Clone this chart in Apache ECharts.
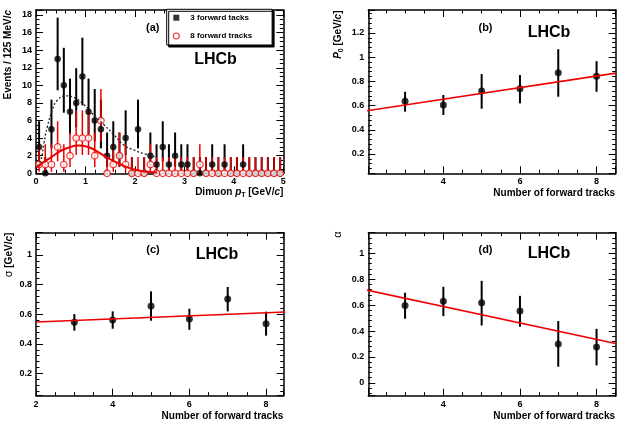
<!DOCTYPE html>
<html><head><meta charset="utf-8">
<script src="https://cdn.jsdelivr.net/npm/echarts@6/dist/echarts.min.js"></script>
<style>html,body{margin:0;padding:0;background:#fff}#c{width:624px;height:427px}</style>
</head><body><div id="c"></div>
<script>
// ================= DATA =================
// Panel (a): dimuon pT histogram, 125 MeV/c bins (bin centres, GeV/c)
const ptBinCentres = [0.0625,0.1875,0.3125,0.4375,0.5625,0.6875,0.8125,0.9375,1.0625,1.1875,
  1.3125,1.4375,1.5625,1.6875,1.8125,1.9375,2.0625,2.1875,2.3125,2.4375,
  2.5625,2.6875,2.8125,2.9375,3.0625,3.1875,3.3125,3.4375,3.5625,3.6875,
  3.8125,3.9375,4.0625,4.1875,4.3125,4.4375,4.5625,4.6875,4.8125,4.9375];
const counts3Tracks = [3,0,5,13,10,7,8,11,7,6, 5,2,3,2,4,0,5,0,2,1, 3,1,2,1,1,0,0,0,1,0, 1,0,0,1,0,0,0,0,0,0];
const counts8Tracks = [1,1,1,3,1,2,4,4,4,2, 6,0,1,2,1,0,0,0,1,0, 0,0,0,0,0,0,1,0,0,0, 0,0,0,0,0,0,0,0,0,0];
// Poisson (68%) error bars, looked up by count n = 0..13
const poissonErrLow  = [0,0.83,1.29,1.63,1.91,2.16,2.38,2.58,2.77,2.94,3.11,3.27,3.42,3.56];
const poissonErrHigh = [1.84,2.30,2.64,2.92,3.16,3.38,3.58,3.77,3.95,4.11,4.27,4.42,4.57,4.70];
// Fit curves
const fit3X = [0.03,0.10,0.16,0.23,0.33,0.43,0.60,0.77,0.97,1.17,1.38,1.58,1.78,2.00,2.20,2.40];
const fit3Y = [0.8,1.5,3.4,5.3,7.2,8.3,8.8,8.6,7.8,6.6,5.5,4.35,3.2,2.6,2.2,1.9];
const fit8X = [0.03,0.16,0.30,0.50,0.67,0.85,1.05,1.25,1.45,1.65,1.85,2.05,2.25,2.45];
const fit8Y = [0.7,1.3,1.8,2.55,2.95,3.15,3.0,2.45,1.75,1.2,0.68,0.35,0.18,0.08];
// Panels (b)-(d): fit parameters vs number of forward tracks
const nTracks = [3,4,5,6,7,8];
const p0Val = [0.635,0.604,0.720,0.739,0.871,0.843];
const p0Lo  = [0.549,0.522,0.574,0.618,0.673,0.714];
const p0Hi  = [0.714,0.687,0.860,0.852,1.066,0.967];
const sigmaVal = [0.545,0.561,0.655,0.567,0.703,0.536];
const sigmaLo  = [0.489,0.502,0.556,0.495,0.619,0.455];
const sigmaHi  = [0.601,0.619,0.754,0.637,0.784,0.617];
const alphaVal = [0.598,0.631,0.618,0.554,0.299,0.276];
const alphaLo  = [0.495,0.515,0.443,0.433,0.124,0.134];
const alphaHi  = [0.696,0.742,0.788,0.672,0.477,0.417];
// Straight-line fits (end points at x = 2 and x = 8.5)
const lineFitX = [2, 8.5];
const p0FitY = [0.557, 0.868];
const sigmaFitY = [0.547, 0.615];
const alphaFitY = [0.716, 0.304];
// Tick label steps
const ptTickStep = 1, countTickStep = 2, trackTickStep = 2, paramTickStep = 0.2;

// ================= BUILD =================
const FONT = '"Liberation Sans", Arial, Helvetica, sans-serif';
const RED = '#ee0000';
const chart = echarts.init(document.getElementById('c'), null, {renderer: 'canvas'});

const grids = [
  {left: 36, top: 10, width: 247.3, height: 163.3},
  {left: 368.3, top: 10, width: 247.4, height: 163.3},
  {left: 36, top: 232.7, width: 247.7, height: 163},
  {left: 368.3, top: 232.7, width: 247.4, height: 163}
].map(g => Object.assign({outerBoundsMode: 'none', containLabel: false}, g));

function stepFormatter(step) {
  return v => {
    const r = v / step;
    return Math.abs(r - Math.round(r)) < 1e-6 ? String(+v.toFixed(2)) : '';
  };
}
function makeAxis(gi, pos, opt, showLabels) {
  const a = {
    type: 'value', gridIndex: gi, position: pos,
    min: opt.min, max: opt.max,
    splitLine: {show: false},
    axisLine: {show: true, onZero: false, lineStyle: {color: '#000', width: 1.5}},
    axisTick: {show: true, inside: true, length: 7, lineStyle: {color: '#000', width: 1}},
    minorTick: {show: true, splitNumber: opt.minor, length: 3.5, lineStyle: {color: '#000', width: 1}},
    axisLabel: {show: showLabels, color: '#000', fontFamily: FONT, fontWeight: 'bold', fontSize: 9,
      margin: 4, formatter: stepFormatter(opt.step), showMinLabel: true, showMaxLabel: true, hideOverlap: false},
    axisPointer: {show: false}
  };
  if (opt.interval != null) a.interval = opt.interval;
  if (opt.splitNumber != null) a.splitNumber = opt.splitNumber;
  return a;
}
const xOpts = [
  {min: 0, max: 5, interval: ptTickStep, step: ptTickStep, minor: 5},
  {min: 2.04, max: 8.5, splitNumber: 3, step: trackTickStep, minor: 4},
  {min: 2, max: 8.46, interval: trackTickStep, step: trackTickStep, minor: 4},
  {min: 2.04, max: 8.5, splitNumber: 3, step: trackTickStep, minor: 4}
];
const yOpts = [
  {min: 0, max: 18.57, interval: countTickStep, step: countTickStep, minor: 4},
  {min: 0.04, max: 1.39, splitNumber: 7, step: paramTickStep, minor: 5},
  {min: 0.05, max: 1.15, splitNumber: 5, step: paramTickStep, minor: 5},
  {min: -0.1, max: 1.16, splitNumber: 6, step: paramTickStep, minor: 5}
];
const xAxes = [], yAxes = [];
for (let g = 0; g < 4; g++) {
  xAxes.push(makeAxis(g, 'bottom', xOpts[g], true));
  xAxes.push(makeAxis(g, 'top', xOpts[g], false));
  yAxes.push(makeAxis(g, 'left', yOpts[g], true));
  yAxes.push(makeAxis(g, 'right', yOpts[g], false));
}

function errBarRender(color, width) {
  return function (params, api) {
    const p1 = api.coord([api.value(0), api.value(1)]);
    const p2 = api.coord([api.value(0), api.value(2)]);
    return {type: 'line', shape: {x1: p1[0], y1: p1[1], x2: p2[0], y2: p2[1]},
      style: {stroke: color, lineWidth: width}};
  };
}
function errSeries(g, name, data, color, width) {
  return {type: 'custom', name, xAxisIndex: 2 * g, yAxisIndex: 2 * g, data,
    encode: {x: 0, y: [1, 2]}, renderItem: errBarRender(color, width), silent: true, clip: false};
}
function pointSeries(g, name, data, style, size) {
  return {type: 'scatter', name, xAxisIndex: 2 * g, yAxisIndex: 2 * g, data,
    symbol: 'circle', symbolSize: size, itemStyle: style, clip: false, silent: true};
}
function lineSeries(g, name, xs, ys, style, smooth) {
  return {type: 'line', name, xAxisIndex: 2 * g, yAxisIndex: 2 * g,
    data: xs.map((x, i) => [x, ys[i]]), showSymbol: false, symbol: 'none', smooth: smooth,
    lineStyle: style, silent: true};
}

const series = [];
// Panel (a)
series.push(errSeries(0, 'err3', ptBinCentres.map((x, i) => {
  const n = counts3Tracks[i]; return [x, n - poissonErrLow[n], n + poissonErrHigh[n]];
}), '#000', 2));
series.push(pointSeries(0, '3 forward tacks', ptBinCentres.map((x, i) => [x, counts3Tracks[i]]), {color: '#000'}, 6.5));
series.push(lineSeries(0, 'fit3', fit3X, fit3Y, {color: '#222', width: 1.3, type: [2, 2]}, true));
series.push(errSeries(0, 'err8', ptBinCentres.map((x, i) => {
  const n = counts8Tracks[i]; return [x, n - poissonErrLow[n], n + poissonErrHigh[n]];
}), RED, 1.5));
series.push(pointSeries(0, '8 forward tracks', ptBinCentres.map((x, i) => [x, counts8Tracks[i]]),
  {color: '#fff', borderColor: RED, borderWidth: 1.2}, 6.5));
series.push(lineSeries(0, 'fit8', fit8X, fit8Y, {color: RED, width: 2}, true));
// Panels (b)-(d)
const params = [[p0Val, p0Lo, p0Hi, p0FitY], [sigmaVal, sigmaLo, sigmaHi, sigmaFitY], [alphaVal, alphaLo, alphaHi, alphaFitY]];
params.forEach((p, k) => {
  const g = k + 1;
  series.push(lineSeries(g, 'fitline' + g, lineFitX, p[3], {color: RED, width: 1.6}, false));
  series.push(errSeries(g, 'errp' + g, nTracks.map((x, i) => [x, p[1][i], p[2][i]]), '#000', 2));
  series.push(pointSeries(g, 'pts' + g, nTracks.map((x, i) => [x, p[0][i]]), {color: '#000'}, 7));
});

function txt(x, y, text, size, opts) {
  return Object.assign({type: 'text', x, y, silent: true, z: 100,
    style: Object.assign({text, fontFamily: FONT, fontWeight: 'bold', fontSize: size, fill: '#000',
      align: 'center', verticalAlign: 'middle'}, (opts && opts.style) || {})},
    (opts && opts.el) || {});
}
const rich = {
  b: {fontFamily: FONT, fontWeight: 'bold', fontSize: 10, lineHeight: 13, verticalAlign: 'middle', fill: '#000'},
  i: {fontFamily: FONT, fontWeight: 'bold', fontStyle: 'italic', fontSize: 10, lineHeight: 13, verticalAlign: 'middle', fill: '#000'},
  s: {fontFamily: FONT, fontWeight: 'bold', fontSize: 7, lineHeight: 6, verticalAlign: 'bottom', fill: '#000'},
  g: {fontFamily: FONT, fontWeight: 'normal', fontSize: 11, lineHeight: 13, verticalAlign: 'middle', fill: '#000'}
};
function richTxt(x, y, text, align, rotation) {
  return {type: 'text', x, y, rotation: rotation || 0, silent: true, z: 100,
    style: {text, rich, align, verticalAlign: 'middle', fontFamily: FONT, fontSize: 10}};
}
const R90 = Math.PI / 2;
const graphic = [
  txt(152.7, 28.3, '(a)', 11), txt(485.5, 28.3, '(b)', 11), txt(153, 250, '(c)', 11), txt(485.5, 250, '(d)', 11),
  txt(215.5, 60, 'LHCb', 16), txt(549, 32.7, 'LHCb', 16), txt(217, 254.3, 'LHCb', 16), txt(549, 253.3, 'LHCb', 16),
  richTxt(8.3, 10, '{b|Events / 125 MeV/}{i|c}', 'right', R90),
  richTxt(283.3, 192, '{b|Dimuon }{i|p}{s|T}{b| [GeV/}{i|c}{b|]}', 'right'),
  richTxt(338, 10.5, '{i|P}{s|0}{b| [GeV/}{i|c}{b|]}', 'right', R90),
  richTxt(615, 193, '{b|Number of forward tracks}', 'right'),
  richTxt(9, 232.7, '{g|σ}{b| [GeV/}{i|c}{b|]}', 'right', R90),
  richTxt(283.3, 416, '{b|Number of forward tracks}', 'right'),
  richTxt(338.3, 231.5, '{g|α}', 'right', R90),
  richTxt(615, 416.7, '{b|Number of forward tracks}', 'right')
];

chart.setOption({
  animation: false,
  backgroundColor: '#fff',
  grid: grids,
  xAxis: xAxes,
  yAxis: yAxes,
  legend: {
    show: true, orient: 'vertical', left: 166.7, top: 9.3,
    data: [
      {name: '3 forward tacks', icon: 'path://M0,0L10,0L10,10L0,10Z', itemStyle: {color: '#000'}},
      {name: '8 forward tracks', icon: 'circle', itemStyle: {color: '#fff', borderColor: RED, borderWidth: 1.2}}
    ],
    symbolKeepAspect: true,
    itemWidth: 18, itemHeight: 6, itemGap: 10.3, padding: [4.4, 20, 5, 6],
    backgroundColor: '#fff', borderColor: '#000', borderWidth: 1,
    shadowColor: '#000', shadowBlur: 0, shadowOffsetX: 2, shadowOffsetY: 2,
    textStyle: {fontFamily: FONT, fontWeight: 'bold', fontSize: 8, color: '#000'},
    selectedMode: false, z: 50
  },
  series,
  graphic
});
</script></body></html>
